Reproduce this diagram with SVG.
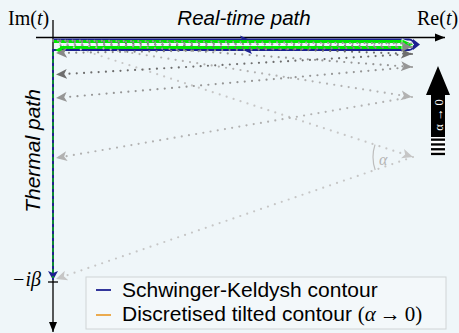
<svg xmlns="http://www.w3.org/2000/svg" width="459" height="333" viewBox="0 0 459 333">
<style>
.sans{font-family:"Liberation Sans",Arial,sans-serif}
.serif{font-family:"Liberation Serif","Times New Roman",serif}
.dot{fill:none;stroke-width:2.2;stroke-linecap:round;stroke-dasharray:0 7.3}
.axis{stroke:#000;stroke-width:1.3;fill:none}
</style>
<defs>
<marker id="ah-k" viewBox="0 -5 10 10" refX="10" refY="0" markerWidth="10" markerHeight="10" markerUnits="userSpaceOnUse" orient="auto"><path d="M0,-4 L10,0 L0,4 Z" fill="#000"/></marker>
<marker id="ah-1" viewBox="0 -5 10 10" refX="10" refY="0" markerWidth="11" markerHeight="11" markerUnits="userSpaceOnUse" orient="auto"><path d="M0,-4.5 L10,0 L0,4.5 L2.5,0 Z" fill="#c6c6c6"/></marker>
<marker id="ah-2" viewBox="0 -5 10 10" refX="10" refY="0" markerWidth="11" markerHeight="11" markerUnits="userSpaceOnUse" orient="auto"><path d="M0,-4.5 L10,0 L0,4.5 L2.5,0 Z" fill="#b2b2b2"/></marker>
<marker id="ah-3" viewBox="0 -5 10 10" refX="10" refY="0" markerWidth="11" markerHeight="11" markerUnits="userSpaceOnUse" orient="auto"><path d="M0,-4.5 L10,0 L0,4.5 L2.5,0 Z" fill="#969696"/></marker>
<marker id="ah-4" viewBox="0 -5 10 10" refX="10" refY="0" markerWidth="11" markerHeight="11" markerUnits="userSpaceOnUse" orient="auto"><path d="M0,-4.5 L10,0 L0,4.5 L2.5,0 Z" fill="#6e6e6e"/></marker>
<marker id="ah-5" viewBox="0 -5 10 10" refX="10" refY="0" markerWidth="11" markerHeight="11" markerUnits="userSpaceOnUse" orient="auto"><path d="M0,-4.5 L10,0 L0,4.5 L2.5,0 Z" fill="#888"/></marker>
</defs>
<rect width="459" height="333" fill="#eff6f9"/>

<g id="axes">
<line class="axis" x1="36" y1="37.5" x2="445" y2="37.5" marker-end="url(#ah-k)"/>
<line class="axis" x1="53" y1="20" x2="53" y2="332" marker-end="url(#ah-k)"/>
<line class="axis" x1="48" y1="282" x2="58" y2="282"/>
<text class="serif" x="8" y="25" font-size="20">Im(<tspan font-style="italic">t</tspan>)</text>
<text class="serif" x="417" y="25" font-size="20">Re(<tspan font-style="italic">t</tspan>)</text>
<text class="serif" x="12" y="286" font-size="20" font-style="italic">−iβ</text>
<text class="sans" x="244" y="25" font-size="20.5" font-style="italic" text-anchor="middle">Real-time path</text>
<text class="sans" transform="translate(39.5,151) rotate(-90)" font-size="21" font-style="italic" text-anchor="middle">Thermal path</text>
</g>

<g id="keldysh-contour">
<path d="M53,39.5 H409 A5.25,5.25 0 0 1 409,50 H53 V280" fill="none" stroke="#1c2090" stroke-width="1.8"/>
<path d="M413,39 L420,44.5 L413,50 Z" fill="#1c2090"/>
<path d="M240,35.5 L249,39.5 L240,43.5 L242,39.5 Z" fill="#1c2090"/>
<path d="M252,46 L243,50 L252,54 L250,50 Z" fill="#1c2090"/>
<path d="M48,271 L53,280 L58,271 L53,273 Z" fill="#1c2090"/>
</g>

<g id="tilted-contour">
<line x1="54" y1="41.5" x2="404" y2="41.5" stroke="#00e800" stroke-width="3"/>
<line x1="408" y1="47.5" x2="60" y2="47.5" stroke="#00e800" stroke-width="3"/>
<path d="M402,39 L414,44.5 L402,50 Z" fill="#00e800" stroke="#fff" stroke-width="0.8"/>
<path d="M64,45.5 L55,50 L64,54.5 L62,50 Z" fill="#00e800"/>
<line x1="53" y1="52" x2="53" y2="278" stroke="#00c800" stroke-width="1.2" stroke-dasharray="4 3"/>
</g>

<g id="connectors">
<line class="dot" stroke="#c6c6c6" x1="53" y1="40.5" x2="413" y2="157" marker-end="url(#ah-1)"/>
<line class="dot" stroke="#c6c6c6" x1="413" y1="157" x2="56" y2="279" marker-end="url(#ah-1)"/>
<line class="dot" stroke="#b2b2b2" x1="53" y1="40.5" x2="412" y2="97" marker-end="url(#ah-2)"/>
<line class="dot" stroke="#b2b2b2" x1="412" y1="97" x2="56" y2="158" marker-end="url(#ah-2)"/>
<line class="dot" stroke="#969696" x1="53" y1="40.5" x2="412" y2="67" marker-end="url(#ah-3)"/>
<line class="dot" stroke="#969696" x1="412" y1="67" x2="56" y2="98" marker-end="url(#ah-3)"/>
<line class="dot" stroke="#6e6e6e" x1="53" y1="40.5" x2="412" y2="54" marker-end="url(#ah-4)"/>
<line class="dot" stroke="#6e6e6e" x1="412" y1="54" x2="56" y2="74.5" marker-end="url(#ah-4)"/>
<line class="dot" stroke="#888" x1="53" y1="40.5" x2="412" y2="47" marker-end="url(#ah-5)"/>
<line class="dot" stroke="#888" x1="412" y1="47" x2="56" y2="53" marker-end="url(#ah-5)"/>
<line class="dot" stroke="#999" x1="58" y1="40.5" x2="411" y2="43.5"/>
<line class="dot" stroke="#999" x1="411" y1="43.5" x2="60" y2="45.3"/>
<path d="M375,144.6 A40,40 0 0 0 375.2,170" fill="none" stroke="#bdbdbd" stroke-width="1.2"/>
<text class="serif" x="379" y="165" font-size="16" font-style="italic" fill="#b5b5b5">α</text>
</g>

<g id="alpha-arrow">
<path d="M438,66 L450,95 L445,95 L445,137 L431,137 L431,95 L426,95 Z" fill="#000"/>
<rect x="431" y="137" width="14" height="18" fill="#fff"/>
<rect x="431" y="138.5" width="14" height="2.3" fill="#000"/>
<rect x="431" y="143.3" width="14" height="2.3" fill="#000"/>
<rect x="431" y="148.1" width="14" height="2.3" fill="#000"/>
<rect x="431" y="152.8" width="14" height="2.3" fill="#000"/>
<text class="serif" transform="translate(442.5,115) rotate(-90)" font-size="12.5" fill="#fff" text-anchor="middle">α → 0</text>
</g>

<g id="legend">
<rect x="86" y="277" width="360" height="52" fill="#f3f8fa" stroke="#d0d4d6" stroke-width="1"/>
<line x1="96" y1="290" x2="111" y2="290" stroke="#1c2090" stroke-width="1.8"/>
<line x1="96" y1="315" x2="111" y2="315" stroke="#eaa23c" stroke-width="1.8"/>
<text class="sans" x="122" y="297" font-size="21">Schwinger-Keldysh contour</text>
<text class="sans" x="122" y="321" font-size="21">Discretised tilted contour <tspan class="serif" font-size="21">(<tspan font-style="italic">α</tspan><tspan dx="4">→</tspan><tspan dx="4">0)</tspan></tspan></text>
</g>
</svg>
